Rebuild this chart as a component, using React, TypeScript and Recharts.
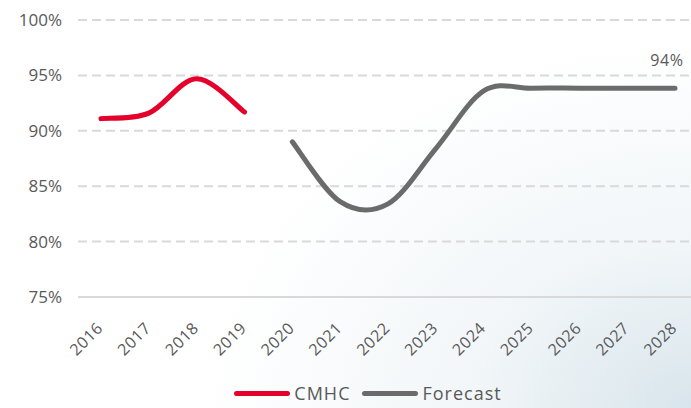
import React from 'react';
import {
  LineChart,
  Line,
  XAxis,
  YAxis,
  CartesianGrid,
  Legend,
  LabelList
} from 'recharts';

const years = ['2016', '2017', '2018', '2019', '2020', '2021', '2022', '2023', '2024', '2025', '2026', '2027', '2028'];
const cmhcValues = [91.1, 91.6, 94.7, 91.7, null, null, null, null, null, null, null, null, null];
const forecastValues = [null, null, null, null, 89.0, 83.6, 83.4, 88.4, 93.6, 93.85, 93.85, 93.85, 93.85];
const yTicks = [75, 80, 85, 90, 95, 100];

const RED = '#e4002b';
const GRAY = '#6b6b6b';
const TEXT = '#595959';
const FONT = '"Open Sans", sans-serif';

const data = years.map((year, i) => ({
  year,
  cmhc: cmhcValues[i],
  forecast: forecastValues[i]
}));

// Excel-style smoothed line (uniform Catmull-Rom)
const smoothCurve = (context: any) => {
  let pts: [number, number][] = [];
  return {
    areaStart() {},
    areaEnd() {},
    lineStart() {
      pts = [];
    },
    lineEnd() {
      const n = pts.length;
      if (!n) return;
      context.moveTo(pts[0][0], pts[0][1]);
      for (let i = 0; i < n - 1; i++) {
        const p0 = pts[Math.max(i - 1, 0)];
        const p1 = pts[i];
        const p2 = pts[i + 1];
        const p3 = pts[Math.min(i + 2, n - 1)];
        context.bezierCurveTo(
          p1[0] + (p2[0] - p0[0]) / 6,
          p1[1] + (p2[1] - p0[1]) / 6,
          p2[0] - (p3[0] - p1[0]) / 6,
          p2[1] - (p3[1] - p1[1]) / 6,
          p2[0],
          p2[1]
        );
      }
    },
    point(x: number, y: number) {
      pts.push([+x, +y]);
    }
  };
};

const YearTick = (props: any) => {
  const { x, y, payload } = props;
  return (
    <g transform={`translate(${x + 3},${y + 24})`}>
      <text
        transform="rotate(-45)"
        textAnchor="end"
        fill={TEXT}
        fontSize={16}
        letterSpacing={0.6}
        fontFamily={FONT}
      >
        {payload.value}
      </text>
    </g>
  );
};

const LastLabel = (props: any) => {
  const { x, y, index, value } = props;
  if (index !== years.length - 1) return null;
  return (
    <text x={x - 8} y={y - 22} textAnchor="middle" fill={TEXT} fontSize={16} letterSpacing={0.6} fontFamily={FONT}>
      {`${Math.round(value)}%`}
    </text>
  );
};

const legendItems = [
  { name: 'CMHC', color: RED },
  { name: 'Forecast', color: GRAY }
];

const renderLegend = () => (
  <div
    style={{
      display: 'flex',
      justifyContent: 'center',
      alignItems: 'center',
      gap: 12,
      paddingLeft: 45,
      fontFamily: FONT,
      fontSize: 18,
      letterSpacing: 1,
      color: TEXT,
      height: 30
    }}
  >
    {legendItems.map((item) => (
      <span key={item.name} style={{ display: 'flex', alignItems: 'center' }}>
        <span
          style={{
            display: 'inline-block',
            width: 56,
            height: 5,
            borderRadius: 3,
            background: item.color,
            marginRight: 4
          }}
        />
        {item.name}
      </span>
    ))}
  </div>
);

export default function App() {
  return (
    <div
      style={{
        position: 'absolute',
        left: 0,
        top: 0,
        width: 691,
        height: 408,
        background:
          'radial-gradient(ellipse 70% 90% at 100% 100%, rgba(200,218,228,0.7) 0%, rgba(225,235,240,0.45) 45%, rgba(255,255,255,0) 100%)'
      }}
    >
      <LineChart width={691} height={408} data={data} margin={{ top: 20, right: 0, left: 0, bottom: 0 }}>
        <CartesianGrid vertical={false} stroke="#d9d9d9" strokeDasharray="9 5" strokeWidth={2} />
        <XAxis
          dataKey="year"
          height={81}
          padding={{ left: 23, right: 16 }}
          axisLine={{ stroke: '#d9d9d9', strokeWidth: 2 }}
          tickLine={false}
          tick={<YearTick />}
          interval={0}
        />
        <YAxis
          domain={[75, 100]}
          ticks={yTicks}
          width={78}
          axisLine={false}
          tickLine={false}
          tickSize={0}
          tickMargin={16}
          tickFormatter={(v: number) => `${v}%`}
          tick={{ fill: TEXT, fontSize: 17, fontFamily: FONT }}
        />
        <Legend verticalAlign="bottom" content={renderLegend} wrapperStyle={{ height: 30 }} />
        <Line
          dataKey="cmhc"
          name="CMHC"
          type={smoothCurve as any}
          stroke={RED}
          strokeWidth={5}
          strokeLinecap="round"
          dot={false}
          activeDot={false}
          isAnimationActive={false}
        />
        <Line
          dataKey="forecast"
          name="Forecast"
          type={smoothCurve as any}
          stroke={GRAY}
          strokeWidth={5}
          strokeLinecap="round"
          dot={false}
          activeDot={false}
          isAnimationActive={false}
        >
          <LabelList dataKey="forecast" content={<LastLabel />} />
        </Line>
      </LineChart>
    </div>
  );
}
